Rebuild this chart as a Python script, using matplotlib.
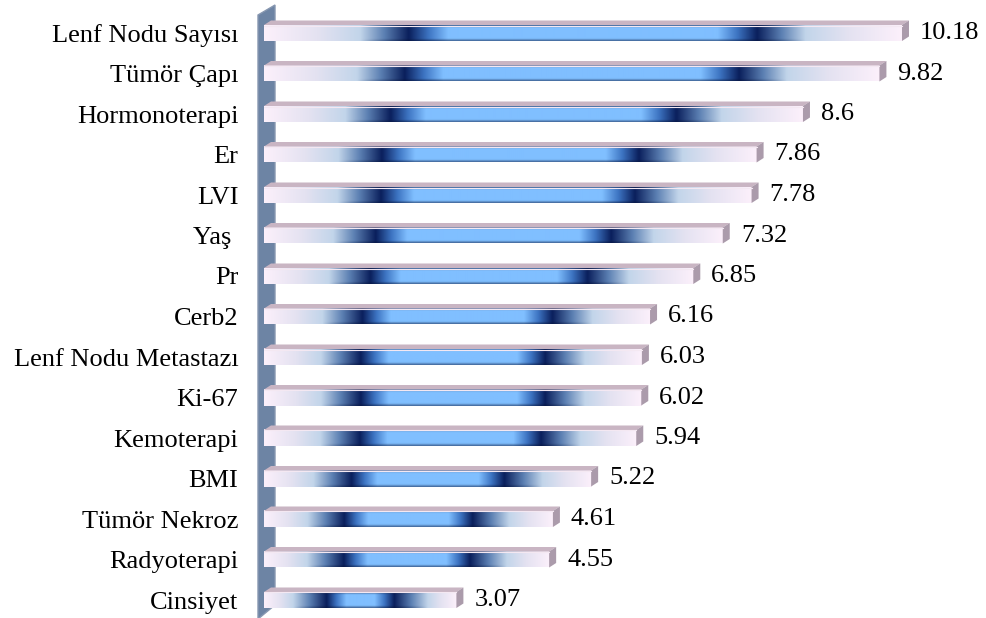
import numpy as np
import matplotlib
matplotlib.use('Agg')
import matplotlib.pyplot as plt
from matplotlib.colors import to_rgb
from matplotlib.patches import Polygon

labels = ['Lenf Nodu Sayısı', 'Tümör Çapı', 'Hormonoterapi', 'Er', 'LVI', 'Yaş ',
          'Pr', 'Cerb2', 'Lenf Nodu Metastazı', 'Ki-67', 'Kemoterapi', 'BMI',
          'Tümör Nekroz', 'Radyoterapi', 'Cinsiyet']
values = [10.18, 9.82, 8.6, 7.86, 7.78, 7.32, 6.85, 6.16, 6.03, 6.02, 5.94, 5.22,
          4.61, 4.55, 3.07]
value_text = ['10.18', '9.82', '8.6', '7.86', '7.78', '7.32', '6.85', '6.16', '6.03',
              '6.02', '5.94', '5.22', '4.61', '4.55', '3.07']

plt.rcParams['font.family'] = ['Liberation Serif', 'DejaVu Serif']

W, H = 987, 618
fig = plt.figure(figsize=(W / 100, H / 100), dpi=100)
x0px = 264
ax = fig.add_axes([x0px / W, 0, 1 - x0px / W, 1])
pxx = 62.67   # pixels per unit
pxy = 40.5    # pixels per row
ax.set_xlim(0, (W - x0px) / pxx)
ax.set_ylim((H - 33) / pxy, -33 / pxy)
for s in ax.spines.values():
    s.set_visible(False)
ax.set_xticks([])
ax.set_yticks(range(len(labels)))
ax.set_yticklabels(labels, fontsize=19)
ax.tick_params(axis='y', length=0, pad=18.5)

dx = 7 / pxx      # depth offset
dy = -4.5 / pxy
h = 16 / pxy      # front face height

# back wall
wall = Polygon([(-6 / pxx, -18 / pxy), (11 / pxx, -28 / pxy), (11 / pxx, 572 / pxy),
                (-6 / pxx, 586 / pxy)], closed=True, facecolor='#6d84a4',
               edgecolor='#8797b0', lw=1.0, clip_on=False, zorder=1)
ax.add_patch(wall)

pink = np.array(to_rgb('#fcf0fb'))
lav = np.array(to_rgb('#e4e2f1'))
pale = np.array(to_rgb('#c2d5ea'))
steel = np.array(to_rgb('#5b7fb2'))
navy = np.array(to_rgb('#0a1f5c'))
mid = np.array(to_rgb('#3d74c2'))
light = np.array(to_rgb('#80bfff'))

def bar_image(width_px, nx=400, ny=16):
    # gradient stops, in pixels from either end of the bar
    p_pink = 0.15 * width_px
    p_navy = 27 + 0.184 * width_px
    p_light = 38 + 0.229 * width_px
    stops = [0, 0.55 * p_pink, p_pink, (p_pink + p_navy) / 2, p_navy,
             (p_navy + p_light) / 2, p_light]
    cols = [pink, lav, pale, steel, navy, mid, light]
    d = np.linspace(0, width_px, nx)
    d = np.minimum(d, width_px - d)
    rgb = np.stack([np.interp(d, stops, [c[k] for c in cols]) for k in range(3)], axis=1)
    inner = np.clip((d - p_pink) / max(p_navy - p_pink, 1), 0, 1)
    yy = np.abs(np.linspace(-1, 1, ny))
    edge = np.clip((yy - 0.7) / 0.3, 0, 1)
    img = np.zeros((ny, nx, 3))
    for j in range(ny):
        k = 0.45 * edge[j] * inner
        img[j] = rgb * (1 - k[:, None]) + navy * 0.6 * k[:, None]
    return np.clip(img, 0, 1)

for i, v in enumerate(values):
    top = i - h / 2
    bot = i + h / 2
    ax.imshow(bar_image(v * pxx), extent=(0, v, bot, top), aspect='auto',
              interpolation='bilinear', zorder=3)
    # top face
    ax.add_patch(Polygon([(0, top), (dx, top + dy), (v + dx, top + dy), (v, top)],
                         closed=True, facecolor='#c9b5c3', edgecolor='none', zorder=3))
    ax.plot([0, v], [top + 0.5 / pxy, top + 0.5 / pxy], color='#f4e8f2', lw=0.8, zorder=4)
    # end face
    ax.add_patch(Polygon([(v, top), (v + dx, top + dy), (v + dx, bot + dy), (v, bot)],
                         closed=True, facecolor='#ab9bab', edgecolor='none', zorder=3))
    ax.annotate(value_text[i], (v, i), xytext=(13, 0), textcoords='offset points',
                ha='left', va='center', fontsize=19)

fig.savefig('out.png', dpi=100)
